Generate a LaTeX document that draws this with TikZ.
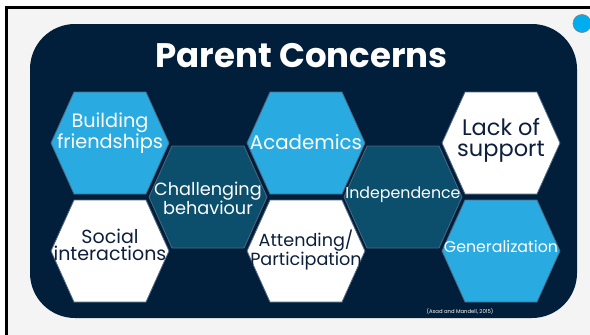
\documentclass[tikz,border=0pt]{standalone}
\usepackage{fontspec}
\setmainfont{Poppins}
\definecolor{navy}{HTML}{011F3B}
\definecolor{pagegray}{HTML}{F4F4F4}
\definecolor{lightblue}{HTML}{29ABE2}
\definecolor{tealdark}{HTML}{0B4F6C}
\definecolor{textnavy}{HTML}{0D1F3C}
\definecolor{hexedge}{HTML}{4E6780}
\definecolor{dotblue}{HTML}{00AEEF}
\newcommand{\hexagonat}[3]{%
  \filldraw[hexstyle, fill=#3] ({#1-59},#2) -- ({#1-36},{#2-51}) -- ({#1+36},{#2-51}) -- ({#1+59},#2) -- ({#1+36},{#2+51}) -- ({#1-36},{#2+51}) -- cycle;}
\begin{document}
\begin{tikzpicture}[x=1pt,y=-1pt,
  hexstyle/.style={draw=hexedge, line width=0.8pt},
  label/.style={align=center, inner sep=0pt},
  whitetext/.style={label, text=white},
  darktext/.style={label, text=textnavy}]
\useasboundingbox (0,0) rectangle (590,335);
\fill[white] (0,0) rectangle (590,335);
\fill[pagegray] (6.5,7.5) rectangle (590,335);
\draw[black, line width=3pt] (6.5,335) -- (6.5,7.5) -- (590,7.5);
\fill[navy, rounded corners=45pt] (30,24) rectangle (577,318);
\filldraw[draw=gray, fill=dotblue, line width=0.6pt] (582,23.5) circle (9);
\node[whitetext, font=\fontsize{34}{34}\bfseries\selectfont, anchor=base] (title) at (301.5,67) {Parent Concerns};
% hexagons
\hexagonat{110}{143}{lightblue}
\hexagonat{110}{251}{white}
\hexagonat{208}{197}{tealdark}
\hexagonat{306}{143}{lightblue}
\hexagonat{306}{251}{white}
\hexagonat{403}{197}{tealdark}
\hexagonat{501}{143}{white}
\hexagonat{501}{251}{lightblue}
% labels
\node[whitetext, font=\fontsize{19.3}{18.5}\selectfont] (build) at (110,133) {Building\\friendships};
\node[darktext, font=\fontsize{19}{17.5}\selectfont] (social) at (110,245) {Social\\interactions};
\node[whitetext, font=\fontsize{17.7}{17}\selectfont] (chall) at (208,198) {Challenging\\behaviour};
\node[whitetext, font=\fontsize{19.8}{19}\selectfont] (acad) at (306,142) {Academics};
\node[darktext, font=\fontsize{17.6}{17}\selectfont] (attend) at (306,250) {Attending/\\Participation};
\node[whitetext, font=\fontsize{15.8}{15}\selectfont] (indep) at (403,195) {Independence};
\node[darktext, font=\fontsize{22.5}{21}\selectfont] (lack) at (501,140) {Lack of\\support};
\node[whitetext, font=\fontsize{15.8}{15}\selectfont] (gen) at (501,247) {Generalization};
\node[whitetext, font=\fontsize{5.3}{6}\selectfont] (cite) at (460,312) {(Asad and Mandell, 2015)};
\end{tikzpicture}
\end{document}
